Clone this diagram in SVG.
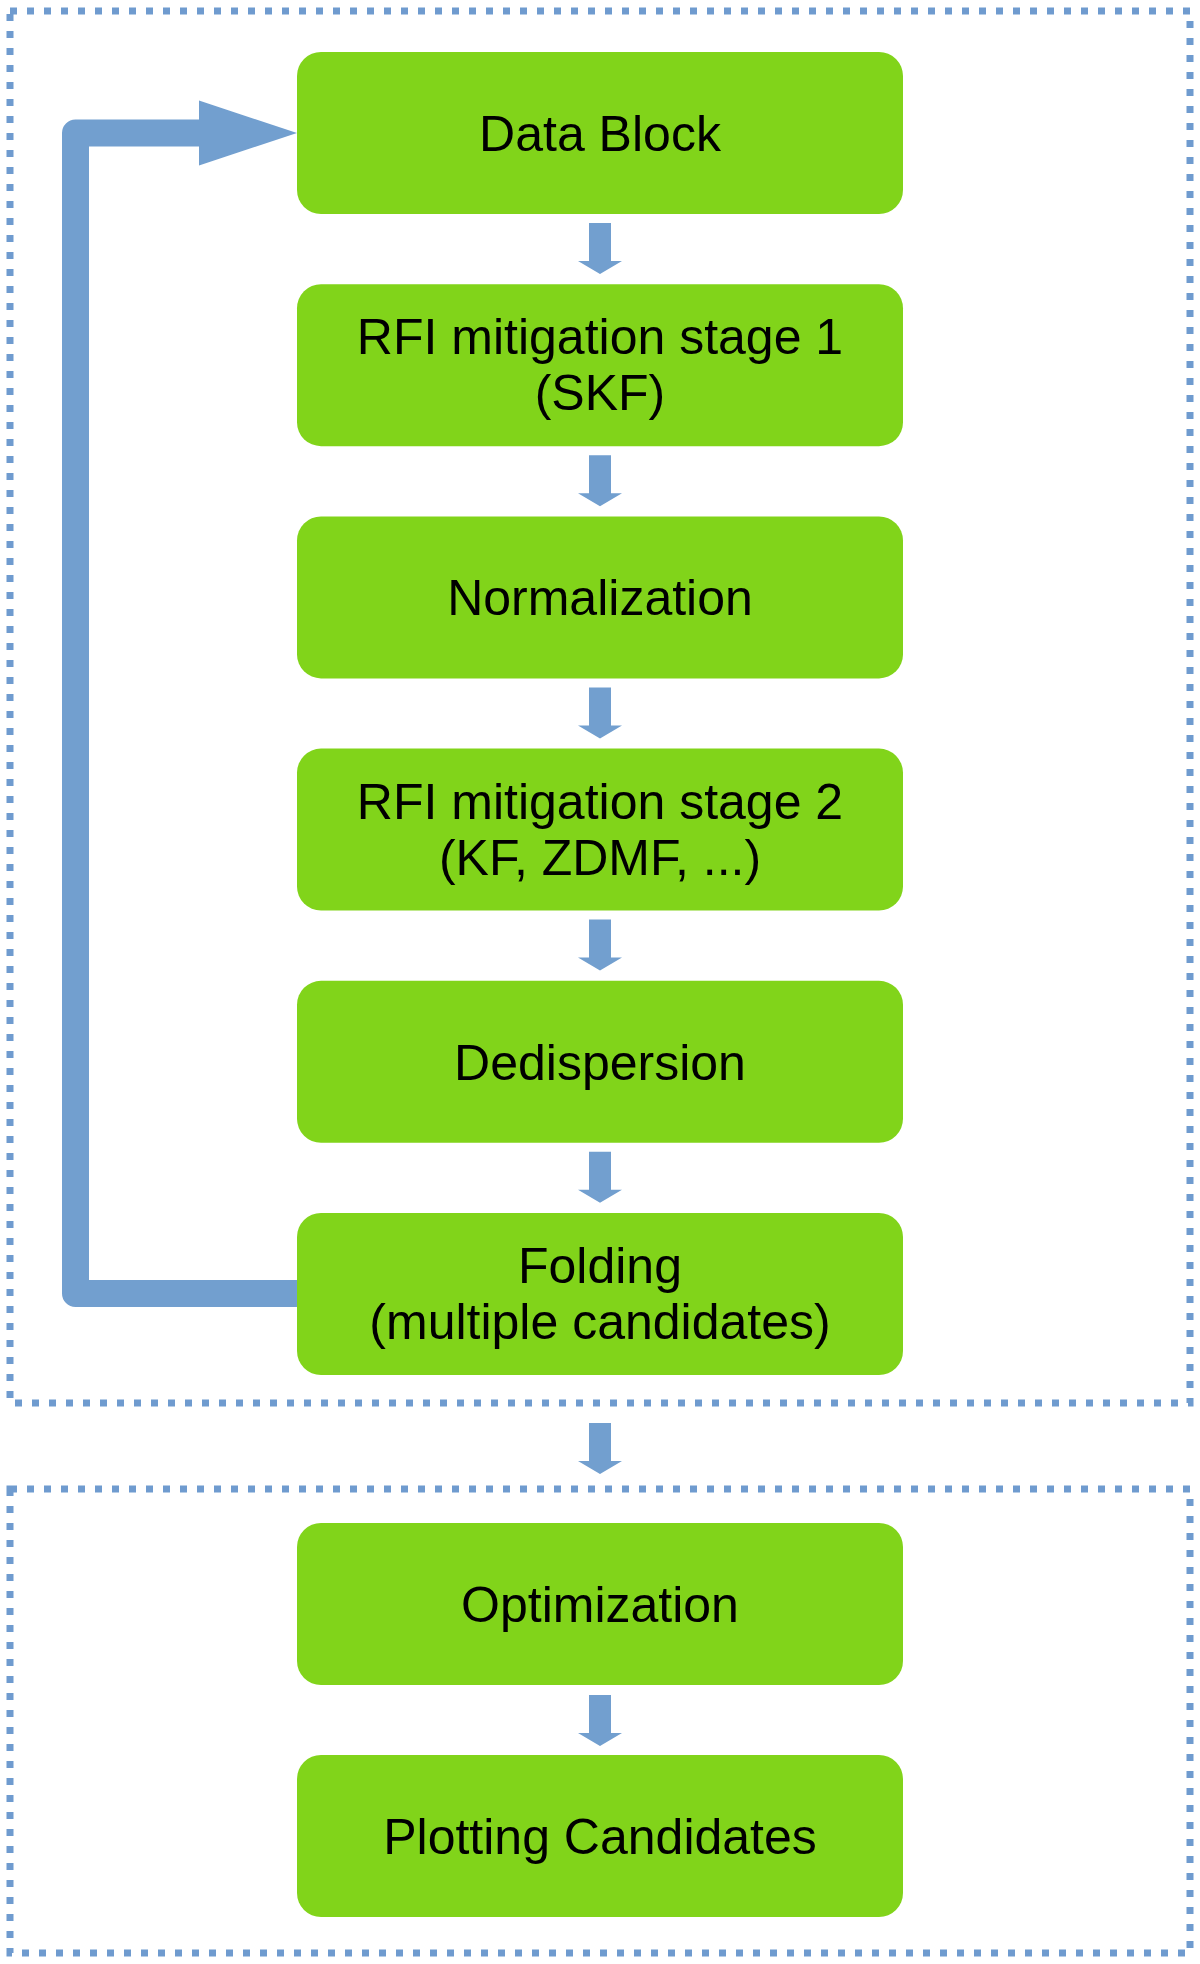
<svg xmlns="http://www.w3.org/2000/svg" xmlns:xlink="http://www.w3.org/1999/xlink" width="1200" height="1964" viewBox="0 0 1200 1964">
<style>
.frame{fill:none;stroke:#6f9bcf;stroke-width:7;stroke-dasharray:7 10}
.box{fill:#81d41a}
.lbl{font-family:"Liberation Sans",Arial,sans-serif;font-size:50px;fill:#000;text-anchor:middle}
.arr{fill:#729fcf}
</style>
<defs>
<path id="down" d="M589 0 H611 V38 H622 L600 51 L578 38 H589 Z"/>
</defs>
<rect width="1200" height="1964" fill="#fff"/>
<g id="frames">
<rect class="frame" x="10" y="11" width="1180" height="1392"/>
<rect class="frame" x="10" y="1489" width="1180" height="464"/>
</g>
<g id="connectors">
<use xlink:href="#down" class="arr" transform="translate(0,223)"/>
<use xlink:href="#down" class="arr" transform="translate(0,455.2)"/>
<use xlink:href="#down" class="arr" transform="translate(0,687.4)"/>
<use xlink:href="#down" class="arr" transform="translate(0,919.6)"/>
<use xlink:href="#down" class="arr" transform="translate(0,1151.8)"/>
<use xlink:href="#down" class="arr" transform="translate(0,1423)"/>
<use xlink:href="#down" class="arr" transform="translate(0,1695)"/>
<path d="M297 1293.5 H75.5 V133 H201" fill="none" stroke="#729fcf" stroke-width="27" stroke-linejoin="round"/>
<polygon class="arr" points="199,100.5 297,133 199,165.5"/>
</g>
<g id="n1"><rect class="box" x="297" y="52" width="606" height="162" rx="24"/><text class="lbl" x="600" y="151">Data Block</text></g>
<g id="n2"><rect class="box" x="297" y="284.2" width="606" height="162" rx="24"/><text class="lbl" x="600" y="354.2">RFI mitigation stage 1</text><text class="lbl" x="600" y="410.2">(SKF)</text></g>
<g id="n3"><rect class="box" x="297" y="516.4" width="606" height="162" rx="24"/><text class="lbl" x="600" y="615.4">Normalization</text></g>
<g id="n4"><rect class="box" x="297" y="748.6" width="606" height="162" rx="24"/><text class="lbl" x="600" y="818.6">RFI mitigation stage 2</text><text class="lbl" x="600" y="874.6">(KF, ZDMF, ...)</text></g>
<g id="n5"><rect class="box" x="297" y="980.8" width="606" height="162" rx="24"/><text class="lbl" x="600" y="1079.8">Dedispersion</text></g>
<g id="n6"><rect class="box" x="297" y="1213" width="606" height="162" rx="24"/><text class="lbl" x="600" y="1283">Folding</text><text class="lbl" x="600" y="1339">(multiple candidates)</text></g>
<g id="n7"><rect class="box" x="297" y="1523" width="606" height="162" rx="24"/><text class="lbl" x="600" y="1622">Optimization</text></g>
<g id="n8"><rect class="box" x="297" y="1755" width="606" height="162" rx="24"/><text class="lbl" x="600" y="1854">Plotting Candidates</text></g>
</svg>
